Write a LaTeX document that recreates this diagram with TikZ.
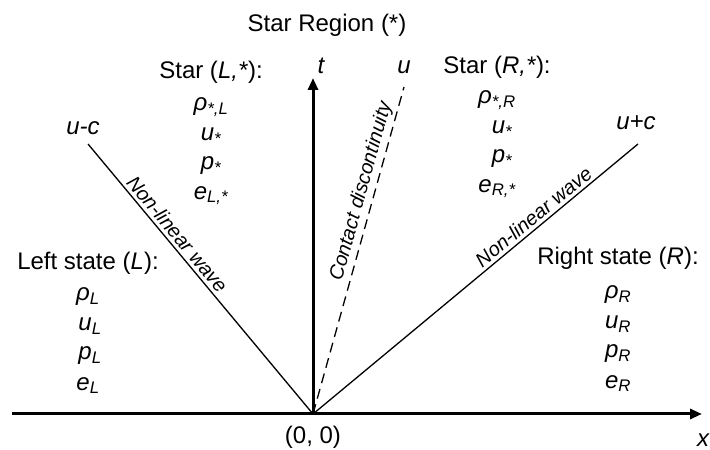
\documentclass[tikz,border=0pt]{standalone}
\usepackage{fontspec}
\setmainfont{Liberation Sans}
\usetikzlibrary{arrows.meta, positioning}

\begin{document}
\begin{tikzpicture}[
  x=1pt, y=1pt,
  node distance=29.5pt, on grid,
  lbl/.style={font=\fontsize{24}{28}\selectfont, inner sep=1pt},
  var/.style={font=\fontsize{24}{28}\selectfont\itshape, inner sep=1pt},
  wave/.style={font=\fontsize{20}{24}\selectfont\itshape, sloped, above, inner sep=3pt},
  axis/.style={line width=3pt, -{Triangle[length=12pt, width=10pt]}},
  char/.style={line width=1.3pt}
]
\useasboundingbox (0,0) rectangle (710,450);
\coordinate (o) at (313,36);
\coordinate (xs) at (12,36);
\coordinate (xe) at (702,36);
\coordinate (te) at (313,372);
\coordinate (lc) at (88,306);
\coordinate (rc) at (638,306);
\coordinate (cd) at (404,363);

\draw[axis] (xs)--(xe); \draw[axis] (o)--(te);
\draw[char] (lc)--(o) node[wave, pos=0.36] {Non-linear wave};
\draw[char] (o)--(rc) node[wave, pos=0.7] {Non-linear wave};
\draw[char, dash pattern=on 10pt off 6pt] (o)--(cd) node[wave, pos=0.67] {Contact discontinuity};

\node[var] (tlab) at (321,384) {t};
\node[var] (xlab) at (703,10) {x};
\node[lbl] (olab) at (313,13) {(0, 0)};
\node[var] (uclab) at (83,322) {u-c};
\node[var] (upclab) at (636,327) {u+c};
\node[var] (ulab) at (404,383) {u};
\node[lbl] (star) at (327,425) {Star Region (*)};

\node[lbl] (hsl) at (211,378) {Star (\textit{L,*}):};
\node[var, below=35pt of hsl] (rsl) {ρ\textsubscript{*,L}};
\node[var, below=of rsl] (usl) {u\textsubscript{*}};
\node[var, below=of usl] (psl) {p\textsubscript{*}};
\node[var, below=of psl] (esl) {e\textsubscript{L,*}};

\node[lbl] (hsr) at (497,383) {Star (\textit{R,*}):};
\node[var, below=33pt of hsr] (rsr) {ρ\textsubscript{*,R}};
\node[var, below=of rsr, xshift=5pt] (usr) {u\textsubscript{*}};
\node[var, below=of usr] (psr) {p\textsubscript{*}};
\node[var, below=of psr, xshift=-5pt] (esr) {e\textsubscript{R,*}};

\node[lbl] (hl) at (88,187) {Left state (\textit{L}):};
\node[var, below=34pt of hl] (rl) {ρ\textsubscript{L}};
\node[var, below=of rl, xshift=2pt] (ul) {u\textsubscript{L}};
\node[var, below=of ul] (pl) {p\textsubscript{L}};
\node[var, below=of pl, xshift=-2pt] (el) {e\textsubscript{L}};

\node[lbl] (hr) at (618,192) {Right state (\textit{R}):};
\node[var, below=37pt of hr] (rr) {ρ\textsubscript{R}};
\node[var, below=of rr] (ur) {u\textsubscript{R}};
\node[var, below=of ur] (pr) {p\textsubscript{R}};
\node[var, below=of pr] (er) {e\textsubscript{R}};
\end{tikzpicture}
\end{document}
